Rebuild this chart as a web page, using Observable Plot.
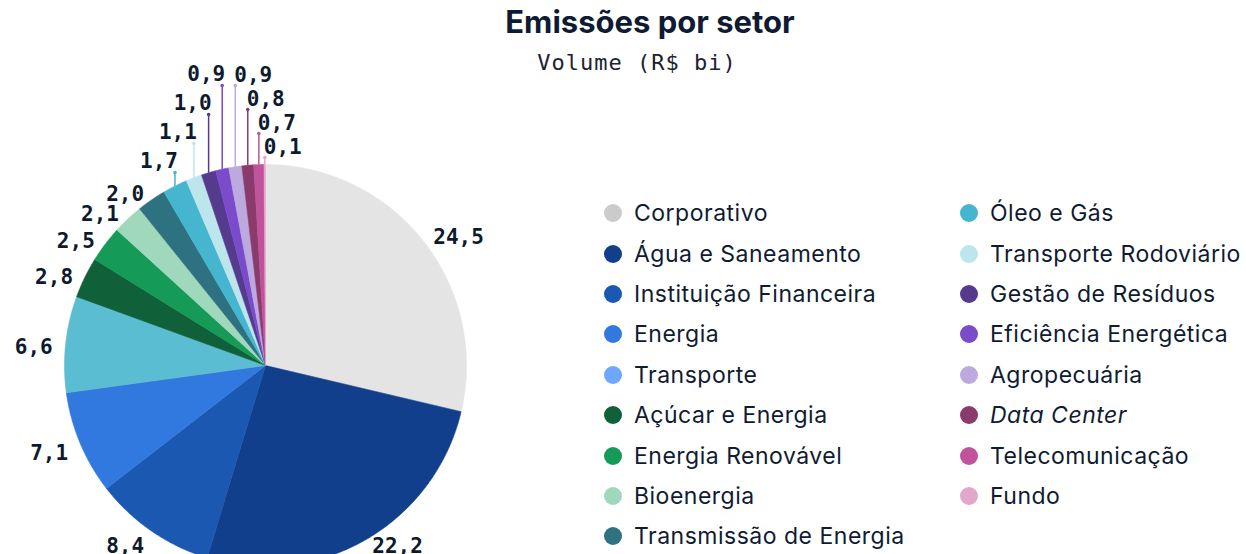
<!DOCTYPE html>
<html>
<head>
<meta charset="utf-8">
<script src="https://cdn.jsdelivr.net/npm/d3@7"></script>
<script src="https://cdn.jsdelivr.net/npm/@observablehq/plot@0.6"></script>
<style>
  html, body { margin: 0; padding: 0; background: #fff; }
  #wrap { position: relative; width: 1246px; height: 554px; overflow: hidden; font-family: Inter, "Noto Sans", sans-serif; color: #0f1b33; }
  #title { position: absolute; left: 0; width: 1300px; top: 3px; text-align: center; font-size: 31px; font-weight: 700; letter-spacing: 0px; }
  #subtitle { position: absolute; left: 0; width: 1274px; top: 50px; text-align: center; font-family: "DejaVu Sans Mono", monospace; font-size: 22px; letter-spacing: 1px; color: #1a2233; }
  #chart { position: absolute; left: 0; top: 0; }
  .legcol { position: absolute; top: 193px; }
  .legrow { height: 40.4px; display: flex; align-items: center; font-size: 23px; letter-spacing: 0.5px; white-space: nowrap; }
  .legdot { width: 18px; height: 18px; border-radius: 50%; margin-right: 12px; flex: none; }
  g[aria-label="pielabel"] text { letter-spacing: 1px; }
</style>
</head>
<body>
<div id="wrap">
  <div id="chart"></div>
  <div id="title">Emissões por setor</div>
  <div id="subtitle">Volume (R$ bi)</div>
  <div id="leg1" class="legcol" style="left:604px"></div>
  <div id="leg2" class="legcol" style="left:960px"></div>
</div>
<script>
const sectors = ["Corporativo", "Água e Saneamento", "Instituição Financeira", "Energia", "Transporte",
  "Açúcar e Energia", "Energia Renovável", "Bioenergia", "Transmissão de Energia", "Óleo e Gás",
  "Transporte Rodoviário", "Gestão de Resíduos", "Eficiência Energética", "Agropecuária",
  "Data Center", "Telecomunicação", "Fundo"];
const values = [24.5, 22.2, 8.4, 7.1, 6.6, 2.8, 2.5, 2.1, 2.0, 1.7, 1.1, 1.0, 0.9, 0.9, 0.8, 0.7, 0.1];
const pieColors = ["#e4e4e4", "#113f8c", "#1a58b1", "#3179de", "#5bbdd2", "#10603a", "#159a58",
  "#9fd8bb", "#2e7180", "#46b5cf", "#bde5ec", "#553a8e", "#7a4bca", "#bca9df", "#8a3a6b", "#c0539c", "#e2a8cc"];
const legendColors = ["#cbcbcb", "#113f8c", "#1a58b1", "#3179de", "#6ea8fe", "#10603a", "#159a58",
  "#9fd8bb", "#2e7180", "#46b5cf", "#bde5ec", "#553a8e", "#7a4bca", "#bca9df", "#8a3a6b", "#c0539c", "#e2a8cc"];
const italicSectors = ["Data Center"];
const valueLabels = values.map(v => v.toFixed(1).replace(".", ","));

// layout (pixels)
const W = 1246, H = 554, cx = 265, cy = 365, R = 201;
const labelR = 214 / R;
const labelMaxPx = 541; // keep bottom labels from falling fully below the frame
const smallFrom = 9, splitAt = 13;

const arcs = d3.pie().sort(null).value(d => d)(values);

// slice polygons in unit space (y up)
const poly = [];
arcs.forEach((a, i) => {
  const n = Math.max(2, Math.ceil((a.endAngle - a.startAngle) / (Math.PI / 360)));
  poly.push({name: sectors[i], x: 0, y: 0});
  for (let k = 0; k <= n; k++) {
    const t = a.startAngle + (a.endAngle - a.startAngle) * k / n;
    poly.push({name: sectors[i], x: Math.sin(t), y: Math.cos(t)});
  }
  poly.push({name: sectors[i], x: 0, y: 0});
});

const bigLabels = [], leaders = [], smallLabels = [];
arcs.forEach((a, i) => {
  const m = (a.startAngle + a.endAngle) / 2;
  if (i < smallFrom) {
    const y = Math.max(labelR * Math.cos(m), (cy - labelMaxPx) / R);
    bigLabels.push({label: valueLabels[i], x: labelR * Math.sin(m), y, right: Math.sin(m) >= 0});
  } else {
    const left = i < splitAt;
    const k = left ? (splitAt - 1 - i) : (i - splitAt);
    const topPx = left ? 85 + k * 29 : 85 + k * 24;
    const ex = Math.sin(m), ey = Math.cos(m);
    const ty = (cy - topPx) / R;
    leaders.push({name: sectors[i], x1: ex, y1: ey, x2: ex, y2: ty});
    smallLabels.push({label: valueLabels[i], x: ex, y: ty, left});
  }
});

const lbl = {text: "label", fontFamily: "DejaVu Sans Mono", fontWeight: 700, fontSize: 21, fill: "#0d1a2e", ariaLabel: "pielabel"};

const chart = Plot.plot({
  width: W, height: H,
  margin: 0,
  x: {domain: [-cx / R, (W - cx) / R], range: [0, W], axis: null},
  y: {domain: [(cy - H) / R, cy / R], range: [H, 0], axis: null},
  color: {domain: sectors, range: pieColors},
  style: {background: "transparent", overflow: "visible"},
  marks: [
    Plot.line(poly, {x: "x", y: "y", z: "name", fill: "name", stroke: "name", strokeWidth: 0.6, curve: "linear"}),
    Plot.link(leaders, {x1: "x1", y1: "y1", x2: "x2", y2: "y2", stroke: "name", strokeWidth: 1.5}),
    Plot.dot(leaders, {x: "x2", y: "y2", r: 1.8, fill: "name", stroke: null}),
    Plot.text(bigLabels.filter(d => d.right), {x: "x", y: "y", dy: 5, textAnchor: "start", ...lbl}),
    Plot.text(bigLabels.filter(d => !d.right), {x: "x", y: "y", dy: 5, textAnchor: "end", ...lbl}),
    Plot.text(smallLabels.filter(d => d.left), {x: "x", y: "y", dy: -11, dx: 3, textAnchor: "end", ...lbl}),
    Plot.text(smallLabels.filter(d => !d.left), {x: "x", y: "y", dy: -10, dx: -1, textAnchor: "start", ...lbl})
  ]
});
document.getElementById("chart").appendChild(chart);

// legend
const perCol = 9;
sectors.forEach((s, i) => {
  const col = document.getElementById(i < perCol ? "leg1" : "leg2");
  const row = document.createElement("div");
  row.className = "legrow";
  const dot = document.createElement("span");
  dot.className = "legdot";
  dot.style.background = legendColors[i];
  const txt = document.createElement("span");
  txt.textContent = s;
  if (italicSectors.includes(s)) txt.style.fontStyle = "italic";
  row.appendChild(dot); row.appendChild(txt);
  col.appendChild(row);
});
</script>
</body>
</html>
